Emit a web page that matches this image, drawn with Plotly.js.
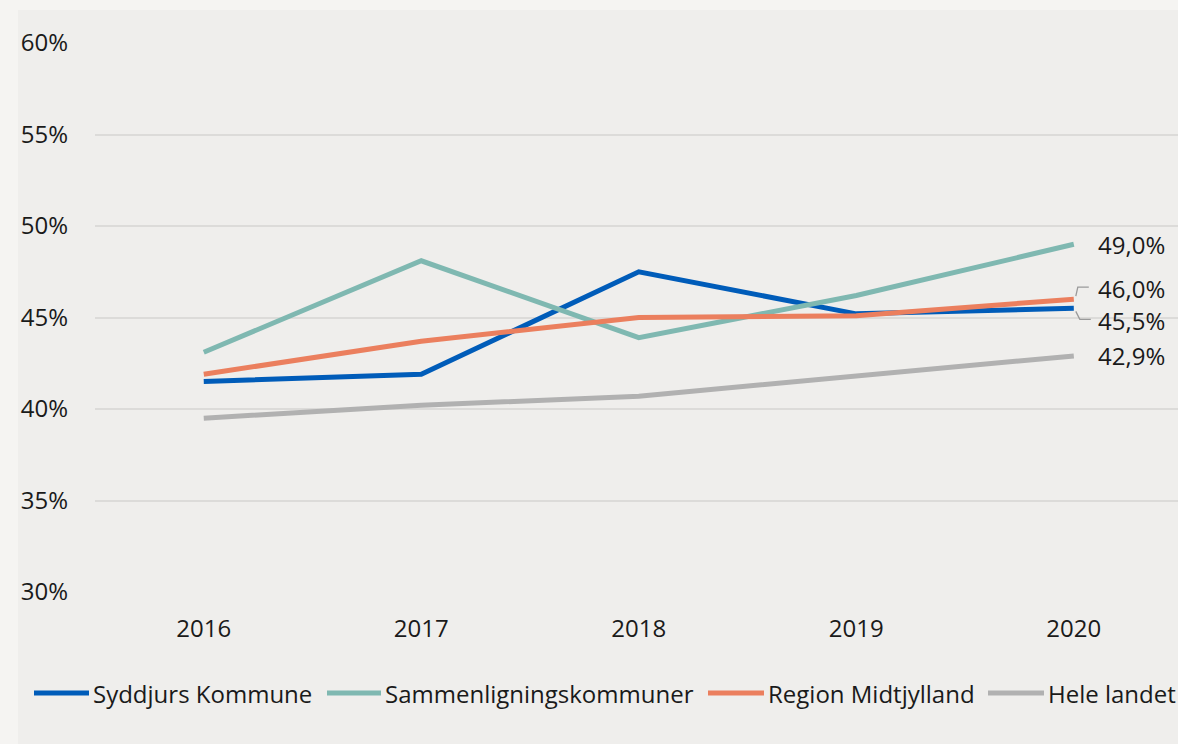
<!DOCTYPE html>
<html>
<head>
<meta charset="utf-8">
<script src="https://cdn.plot.ly/plotly-3.0.1.min.js"></script>
<style>html,body{margin:0;padding:0;background:#f5f4f2;}#chart{width:1178px;height:744px;}</style>
</head>
<body>
<div id="chart"></div>
<script>
const years = [2016, 2017, 2018, 2019, 2020];
const seriesNames = ['Syddjurs Kommune', 'Sammenligningskommuner', 'Region Midtjylland', 'Hele landet'];
const syddjurs = [41.5, 41.9, 47.5, 45.2, 45.5];
const sammenligning = [43.1, 48.1, 43.9, 46.2, 49.0];
const regionMidt = [41.9, 43.7, 45.0, 45.1, 46.0];
const heleLandet = [39.5, 40.2, 40.7, 41.8, 42.9];
const yTicks = [30, 35, 40, 45, 50, 55, 60];
const yTickText = yTicks.map(v => v + '%');

const colors = ['#005cb9', '#7fb8b1', '#eb7f5e', '#b1b1b1'];
const allSeries = [syddjurs, sammenligning, regionMidt, heleLandet];

const FONT = 'Open Sans, Noto Sans, sans-serif';
const FS = 24;
const W = 1178, H = 744, L = 95, T = 43, B = 592, R = 1178;
const px = x => (x - L) / (R - L);
const py = y => (B - y) / (B - T);

const traces = allSeries.map((vals, i) => ({
  type: 'scatter', mode: 'lines', x: years, y: vals, name: seriesNames[i],
  line: {color: colors[i], width: 5}, hoverinfo: 'x+y+name', showlegend: false
}));

const fmt = v => v.toFixed(1).replace('.', ',') + '%';
const last = years.length - 1;

const endLabels = [
  {s: 1, dy: 0},
  {s: 2, dy: 11},
  {s: 0, dy: -12},
  {s: 3, dy: 0}
];
const annotations = endLabels.map(e => ({
  x: years[last], y: allSeries[e.s][last], xref: 'x', yref: 'y',
  text: fmt(allSeries[e.s][last]), showarrow: false,
  xanchor: 'left', yanchor: 'middle', xshift: 22, yshift: e.dy,
  font: {family: FONT, size: FS, color: '#1a1a1a'}
}));

const shapes = [
  {type: 'rect', xref: 'paper', yref: 'paper', x0: px(18), x1: px(1200), y0: py(10), y1: py(760),
   fillcolor: '#efeeec', line: {width: 0}, layer: 'below'},
  {type: 'path', xref: 'x', yref: 'y', xsizemode: 'pixel', ysizemode: 'pixel',
   xanchor: years[last], yanchor: regionMidt[last],
   path: 'M2,3 L4,12 L15,12', line: {color: '#9a9a9a', width: 1.3}},
  {type: 'path', xref: 'x', yref: 'y', xsizemode: 'pixel', ysizemode: 'pixel',
   xanchor: years[last], yanchor: syddjurs[last],
   path: 'M2,-3 L6,-11 L17,-11', line: {color: '#9a9a9a', width: 1.3}}
];

const legLines = [[34, 89], [327, 381], [708, 764], [988, 1044]];
const legY = 693;
seriesNames.forEach((n, i) => {
  shapes.push({type: 'line', xref: 'paper', yref: 'paper',
    x0: px(legLines[i][0]), x1: px(legLines[i][1]), y0: py(legY), y1: py(legY),
    line: {color: colors[i], width: 5}});
  annotations.push({xref: 'paper', yref: 'paper', x: px(legLines[i][1] + 2), y: py(legY),
    xanchor: 'left', yanchor: 'middle', text: n, showarrow: false,
    font: {family: FONT, size: FS, color: '#1a1a1a'}});
});

const layout = {
  width: W, height: H,
  margin: {l: L, r: W - R, t: T, b: H - B, pad: 0},
  paper_bgcolor: '#f5f4f2', plot_bgcolor: 'rgba(0,0,0,0)',
  font: {family: FONT, size: FS, color: '#1a1a1a'},
  showlegend: false,
  xaxis: {type: 'linear', range: [2015.5, 2020.479], tickvals: years, ticktext: years.map(String),
    showgrid: false, zeroline: false, showline: false, ticks: '', ticklabelstandoff: 20, fixedrange: true},
  yaxis: {type: 'linear', range: [30, 60], tickvals: yTicks, ticktext: yTickText, showgrid: true,
    gridcolor: '#dcdbd9', gridwidth: 2, zeroline: false, showline: false, ticks: '',
    ticklabelstandoff: 26, fixedrange: true},
  shapes: shapes, annotations: annotations
};

Plotly.newPlot('chart', traces, layout, {displayModeBar: false, staticPlot: true});
</script>
</body>
</html>
